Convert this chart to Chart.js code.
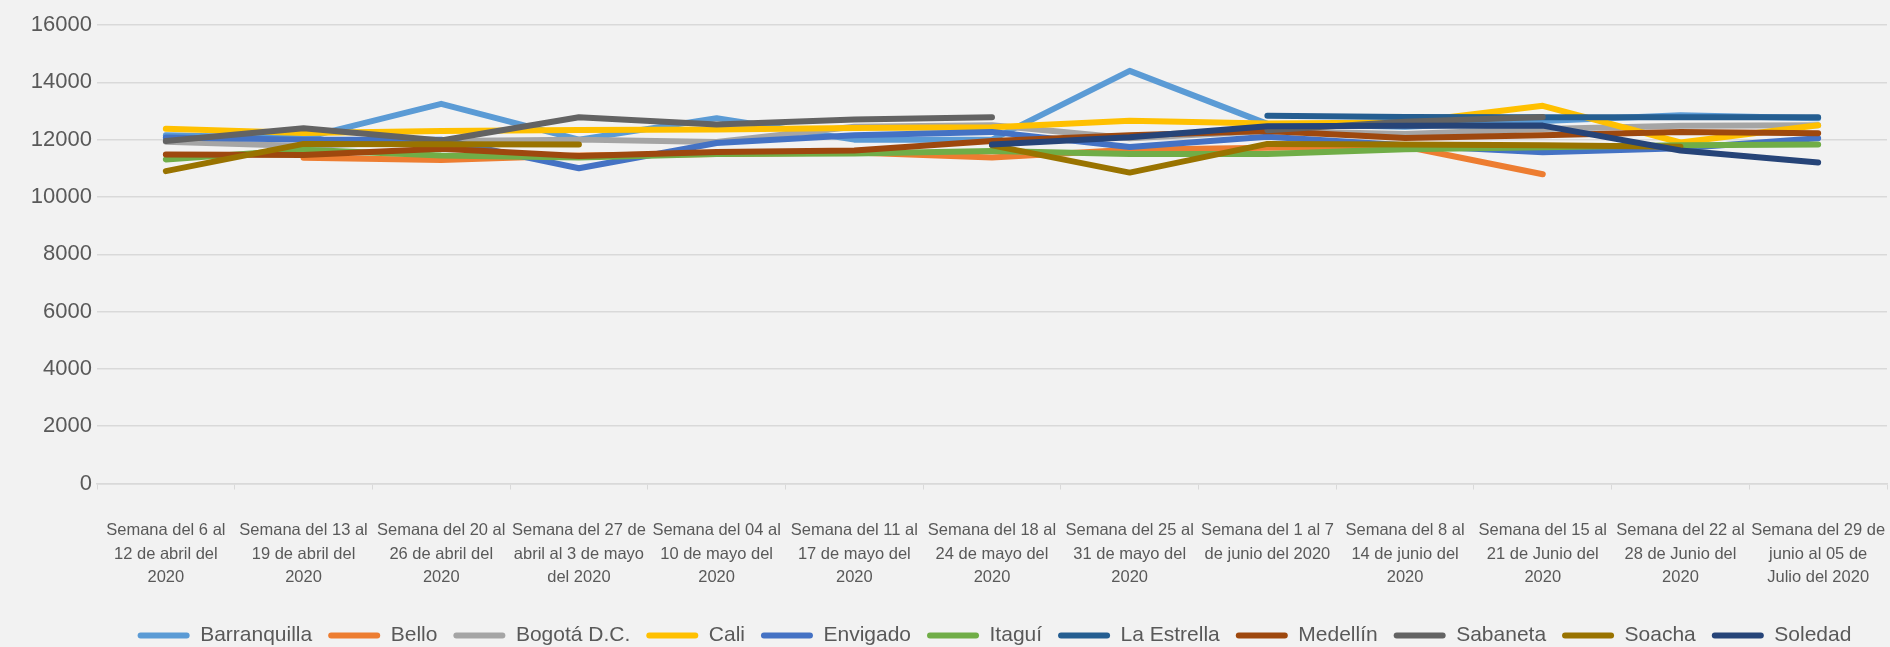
<!DOCTYPE html>
<html>
<head>
<meta charset="utf-8">
<script src="https://cdn.jsdelivr.net/npm/chart.js@4.4.1/dist/chart.umd.min.js"></script>
<style>
  html, body { margin: 0; padding: 0; background: #f2f2f2; overflow: hidden; }
  canvas { display: block; }
</style>
</head>
<body>
<canvas id="c" width="1890" height="647"></canvas>
<script>
const categories = [
  ["Semana del 6 al", "12 de abril del", "2020"],
  ["Semana del 13 al", "19 de abril del", "2020"],
  ["Semana del 20 al", "26 de abril del", "2020"],
  ["Semana del 27 de", "abril al 3 de mayo", "del 2020"],
  ["Semana del 04 al", "10 de mayo del", "2020"],
  ["Semana del 11 al", "17 de mayo del", "2020"],
  ["Semana del 18 al", "24 de mayo del", "2020"],
  ["Semana del 25 al", "31 de mayo del", "2020"],
  ["Semana del 1 al 7", "de junio del 2020"],
  ["Semana del 8 al", "14 de junio del", "2020"],
  ["Semana del 15 al", "21 de Junio del", "2020"],
  ["Semana del 22 al", "28 de Junio del", "2020"],
  ["Semana del 29 de", "junio al 05 de", "Julio del 2020"]
];

const seriesNames = ["Barranquilla", "Bello", "Bogotá D.C.", "Cali", "Envigado", "Itaguí", "La Estrella", "Medellín", "Sabaneta", "Soacha", "Soledad"];
const seriesColors = ["#5B9BD5", "#ED7D31", "#A5A5A5", "#FFC000", "#4472C4", "#70AD47", "#255E91", "#9E480E", "#636363", "#997300", "#264478"];

const barranquilla = [12150, 12050, 13250, 12000, 12750, 12000, 12000, 14400, 12550, 12450, 12650, 12850, 12750];
const bello        = [null, 11370, 11290, 11450, 11500, 11550, 11380, 11650, 11720, 11760, 10790, null, null];
const bogota       = [11930, 11780, 11950, 12000, 11920, 12450, 12500, 12050, 12300, 12200, 12370, 12480, 12500];
const cali         = [12380, 12230, 12300, 12340, 12350, 12410, 12430, 12660, 12560, 12600, 13180, 11900, 12500];
const envigado     = [12070, 12000, 12000, 11000, 11880, 12150, 12270, 11740, 12100, 11800, 11560, 11700, 12050];
const itagui       = [11310, 11650, 11450, 11380, 11500, 11520, 11600, 11500, 11500, 11660, 11730, 11800, 11830];
const laEstrella   = [null, null, null, null, null, null, null, null, 12830, 12790, 12780, 12780, 12780];
const medellin     = [11480, 11460, 11680, 11430, 11570, 11620, 11950, 12150, 12300, 12060, 12150, 12270, 12220];
const sabaneta     = [11950, 12400, 11970, 12780, 12530, 12700, 12780, null, 12330, 12620, 12790, null, null];
const soacha       = [10900, 11850, 11840, 11830, null, null, 11800, 10850, 11850, 11830, 11800, 11750, null];
const soledad      = [null, null, null, null, null, null, 11830, 12080, 12470, 12480, 12490, 11620, 11200];

const seriesValues = [barranquilla, bello, bogota, cali, envigado, itagui, laEstrella, medellin, sabaneta, soacha, soledad];

const yTicks = [0, 2000, 4000, 6000, 8000, 10000, 12000, 14000, 16000];

const FONT = "'Liberation Sans', Arial, sans-serif";
const TEXT = "#595959";
const GRID = "#d9d9d9";

const datasets = seriesValues.map((vals, i) => ({
  label: seriesNames[i],
  data: vals,
  borderColor: seriesColors[i],
  backgroundColor: seriesColors[i],
  borderWidth: 6,
  borderCapStyle: 'round',
  borderJoinStyle: 'round',
  pointRadius: 0,
  pointHoverRadius: 0,
  tension: 0,
  fill: false,
  spanGaps: false,
  order: seriesValues.length - i
}));

const legendShift = {
  id: 'legendShift',
  afterLayout(chart) {
    const lg = chart.legend;
    if (lg) { lg.left = 2 * 994.5 - lg.right; }
  }
};

new Chart(document.getElementById('c'), {
  type: 'line',
  data: { labels: categories, datasets },
  plugins: [legendShift],
  options: {
    responsive: false,
    animation: false,
    devicePixelRatio: 1,
    layout: { padding: { top: 25, right: 3, left: 0, bottom: -9 } },
    plugins: {
      tooltip: { enabled: false },
      legend: {
        position: 'bottom',
        labels: {
          font: { family: FONT, size: 21 },
          color: TEXT,
          boxWidth: 52,
          boxHeight: 6,
          padding: 16,
          useBorderRadius: true,
          borderRadius: 3,
          sort: (a, b) => a.datasetIndex - b.datasetIndex,
          generateLabels: (chart) => {
            const items = Chart.defaults.plugins.legend.labels.generateLabels(chart);
            return items.map(it => ({ ...it, fillStyle: seriesColors[it.datasetIndex], strokeStyle: seriesColors[it.datasetIndex], lineWidth: 0 }));
          }
        }
      }
    },
    scales: {
      x: {
        offset: true,
        grid: { display: true, drawOnChartArea: false, drawTicks: true, tickLength: 6, color: GRID, offset: true },
        border: { display: true, color: GRID, width: 1.5 },
        ticks: {
          autoSkip: false, maxRotation: 0, minRotation: 0,
          font: { family: FONT, size: 16.5, lineHeight: 1.42 },
          color: TEXT,
          padding: 29.5
        },
        afterFit: (s) => { s.height = 125.5; s.paddingLeft = 0; s.paddingRight = 0; }
      },
      y: {
        min: 0, max: 16000,
        afterBuildTicks: (s) => { s.ticks = yTicks.map(v => ({ value: v })); },
        grid: { color: GRID, lineWidth: 1.5, drawTicks: false },
        border: { display: false },
        ticks: {
          font: { family: FONT, size: 22 },
          color: TEXT,
          padding: 5,
          callback: (v) => String(v)
        },
        afterFit: (s) => { s.width = 97; }
      }
    }
  }
});
</script>
</body>
</html>
